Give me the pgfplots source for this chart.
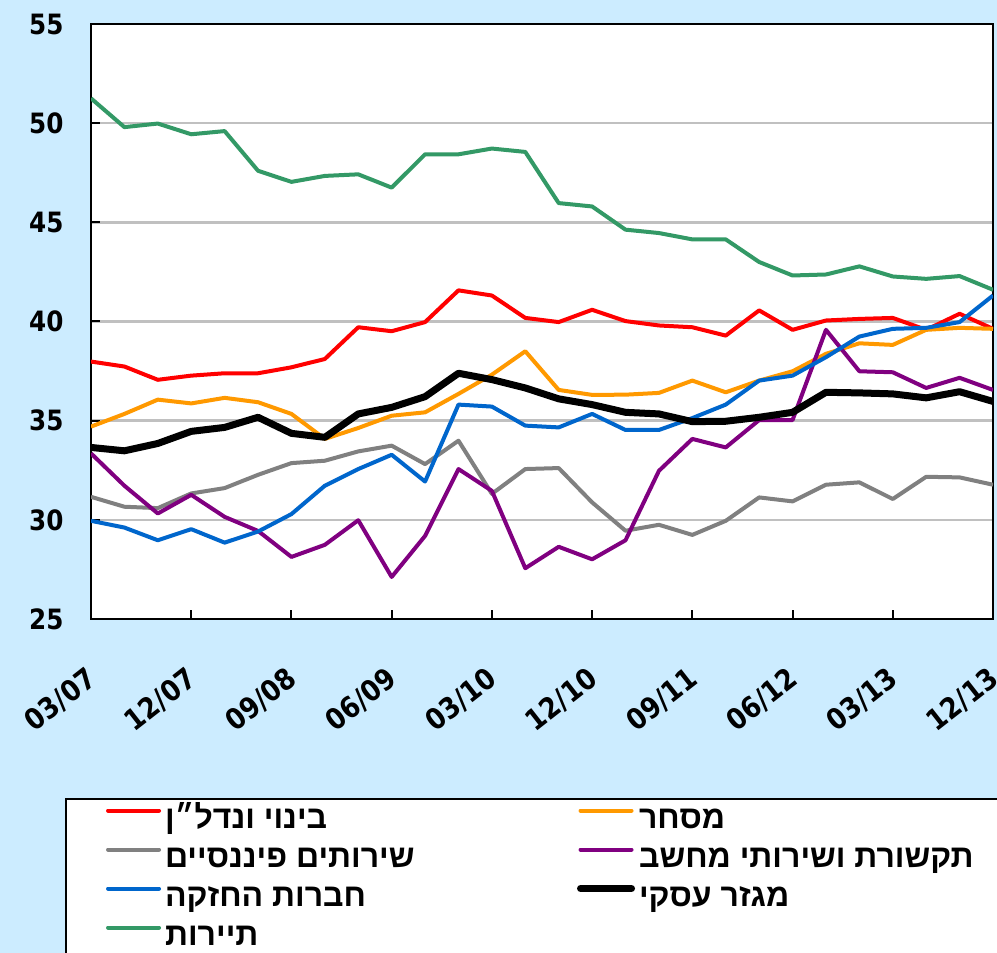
\documentclass[border=0pt]{standalone}
\usepackage{fontspec}
\usepackage{pgfplots}
\usepackage{pgfplotstable}
\pgfplotsset{compat=1.18}
\setmainfont{DejaVu Sans}
\newfontfamily\tickfont{DejaVu Sans}[FakeStretch=0.88]
\newfontfamily\hebfont{Liberation Sans}[Script=Hebrew]
\TeXXeTstate=1
\definecolor{bgblue}{RGB}{204,236,255}
\definecolor{cred}{RGB}{255,0,0}
\definecolor{corange}{RGB}{255,153,0}
\definecolor{cgray}{RGB}{128,128,128}
\definecolor{cpurple}{RGB}{128,0,128}
\definecolor{cblue}{RGB}{0,102,204}
\definecolor{cgreen}{RGB}{51,153,102}
\definecolor{gridgray}{RGB}{192,192,192}
\newcommand{\heb}[1]{\beginR #1\endR}

\pgfplotstableread{
x red orange gray purple blue black green
0 37.98 34.70 31.16 33.35 29.95 33.65 51.25
1 37.73 35.34 30.66 31.72 29.61 33.48 49.80
2 37.06 36.06 30.59 30.32 28.97 33.85 49.98
3 37.27 35.87 31.33 31.26 29.53 34.46 49.44
4 37.39 36.15 31.60 30.15 28.85 34.66 49.60
5 37.39 35.93 32.27 29.44 29.41 35.17 47.60
6 37.69 35.34 32.86 28.13 30.29 34.36 47.04
7 38.11 34.08 32.98 28.74 31.72 34.16 47.34
8 39.71 34.63 33.45 29.98 32.56 35.34 47.42
9 39.51 35.25 33.74 27.12 33.28 35.67 46.75
10 39.97 35.42 32.81 29.19 31.93 36.21 48.43
11 41.57 36.35 33.99 32.56 35.81 37.39 48.43
12 41.31 37.32 31.31 31.46 35.71 37.07 48.72
13 40.18 38.50 32.56 27.56 34.75 36.65 48.55
14 39.97 36.55 32.61 28.64 34.66 36.10 45.97
15 40.59 36.30 30.88 28.01 35.34 35.81 45.80
16 40.02 36.31 29.45 28.97 34.53 35.42 44.63
17 39.80 36.40 29.75 32.47 34.53 35.34 44.46
18 39.71 37.02 29.24 34.08 35.13 34.95 44.14
19 39.29 36.43 29.95 33.65 35.81 34.97 44.14
20 40.56 37.02 31.13 35.03 37.02 35.17 43.00
21 39.58 37.49 30.93 35.03 37.27 35.42 42.32
22 40.05 38.37 31.77 39.58 38.20 36.43 42.37
23 40.13 38.90 31.89 37.49 39.24 36.40 42.78
24 40.18 38.82 31.05 37.44 39.63 36.35 42.27
25 39.58 39.58 32.17 36.65 39.68 36.15 42.15
26 40.39 39.68 32.14 37.16 39.97 36.46 42.29
27 39.63 39.63 31.77 36.55 41.31 35.97 41.60
}\datatable

\begin{document}
\begin{tikzpicture}
\fill[bgblue, use as bounding box] (0bp,0bp) rectangle (997bp,953bp);
\begin{axis}[
  at={(91bp,334bp)}, anchor=south west,
  scale only axis, width=902bp, height=595bp,
  xmin=0, xmax=27, ymin=25, ymax=55,
  xtick={0,3,...,27},
  xticklabels={03/07,12/07,09/08,06/09,03/10,12/10,09/11,06/12,03/13,12/13},
  ytick={25,30,...,55},
  axis line style={line width=2.5bp},
  tick style={black, line width=2bp},
  major tick length=9bp,
  tick align=inside,
  xtick pos=lower, ytick pos=left,
  ymajorgrids,
  grid style={gridgray, line width=2.5bp},
  axis background/.style={fill=white},
  /pgf/number format/assume math mode=true,
  yticklabel style={font=\tickfont\bfseries\fontsize{28bp}{30bp}\selectfont, xshift=-24bp},
  xticklabel style={font=\tickfont\bfseries\fontsize{29bp}{30bp}\selectfont, yshift=-54bp, xshift=4bp, rotate=38, anchor=east},
  legend columns=2,
  legend cell align=left,
  legend image code/.code={\draw[line cap=round, #1] (0bp,10bp) -- (51bp,10bp);},
  legend style={at={(axis description cs:-0.0288,-0.3009)}, anchor=north west,
    draw=black, line width=2bp, fill=white,
    inner xsep=40bp, inner ysep=4bp, row sep=4bp, column sep=0bp,
    font=\hebfont\bfseries\fontsize{32bp}{34bp}\selectfont,
    nodes={inner xsep=4bp, inner ysep=3bp, text height=22bp, text depth=7bp}},
]
\addplot[cred, line width=4bp, line join=round] table[x=x, y=red] {\datatable};
\addlegendentry{\makebox[408bp][l]{\heb{בינוי ונדל״ן}}}
\addplot[corange, line width=4bp, line join=round] table[x=x, y=orange] {\datatable};
\addlegendentry{\makebox[400bp][l]{\heb{מסחר}}}
\addplot[cgray, line width=4bp, line join=round] table[x=x, y=gray] {\datatable};
\addlegendentry{\makebox[408bp][l]{\heb{שירותים פיננסיים}}}
\addplot[cpurple, line width=4bp, line join=round] table[x=x, y=purple] {\datatable};
\addlegendentry{\makebox[400bp][l]{\heb{תקשורת ושירותי מחשב}}}
\addplot[cblue, line width=4bp, line join=round] table[x=x, y=blue] {\datatable};
\addlegendentry{\makebox[408bp][l]{\heb{חברות החזקה}}}
\addplot[black, line width=7bp, line join=round] table[x=x, y=black] {\datatable};
\addlegendentry{\makebox[400bp][l]{\heb{מגזר עסקי}}}
\addplot[cgreen, line width=4bp, line join=round] table[x=x, y=green] {\datatable};
\addlegendentry{\makebox[408bp][l]{\heb{תיירות}}}
\end{axis}
\end{tikzpicture}
\end{document}
